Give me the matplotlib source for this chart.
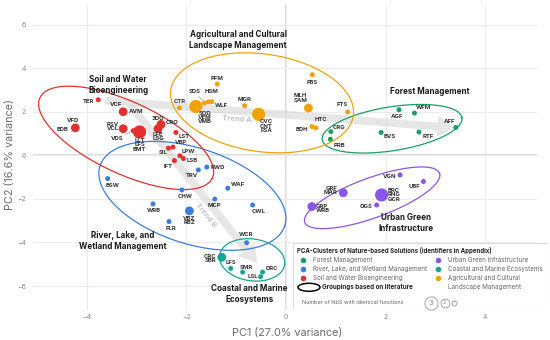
import numpy as np
import matplotlib.pyplot as plt
from matplotlib.patches import Ellipse, Rectangle

plt.rcParams['font.family'] = ['Inter', 'DejaVu Sans']

# ---- PCA scores ---------------------------------------------------------
forest_codes = ['CRG', 'PRB', 'BVS', 'AGF', 'WFM', 'RTF', 'AFF']
forest_pc1 = [0.90, 0.89, 1.91, 2.27, 2.58, 2.67, 3.41]
forest_pc2 = [1.09, 0.74, 1.05, 2.09, 1.94, 1.07, 1.28]
forest_n = [1, 1, 1, 1, 1, 1, 1]

river_codes = ['BSW', 'TRV', 'RWD', 'WAF', 'CHW', 'WRB', 'VBZ/RBZ', 'MCP', 'CWL', 'FLR', 'WCR']
river_pc1 = [-3.58, -1.76, -1.59, -1.17, -2.09, -2.67, -1.94, -1.43, -0.67, -2.35, -0.79]
river_pc2 = [-1.07, -0.67, -0.54, -1.51, -1.59, -2.23, -2.55, -2.01, -2.28, -3.04, -4.01]
river_n = [1, 1, 1, 1, 1, 1, 2, 1, 1, 1, 1]

soil_codes = ['TER', 'VCF/AVM', 'VFD/EDB', 'RSV/VCL', 'VDS', 'LLT/LFS/BMT', '3DO/CRO',
              'LFE/LSG', 'LST', 'VBP', 'SIL', 'LPW', 'LSB', 'IFT']
soil_pc1 = [-3.77, -3.27, -4.23, -3.27, -3.07, -2.94, -2.51, -2.57, -2.21, -2.27, -2.36,
            -2.13, -2.06, -2.24]
soil_pc2 = [2.55, 2.00, 1.26, 1.22, 1.13, 1.07, 1.42, 1.22, 1.05, 0.38, 0.33, -0.02, -0.15, -0.24]
soil_n = [1, 2, 2, 2, 1, 3, 2, 2, 1, 1, 1, 1, 1, 1]

urban_codes = ['VGN', 'UBF', 'BRC/RNG/GCR', 'OGS', 'GRF/MAR', 'GRP/WRB']
urban_pc1 = [2.29, 2.76, 1.92, 1.82, 1.15, 0.52]
urban_pc2 = [-0.90, -1.20, -1.82, -2.28, -1.72, -2.35]
urban_n = [1, 1, 3, 1, 2, 2]

coast_codes = ['CRC/SBR', 'LFS', 'SMR', 'DRC', 'LSL']
coast_pc1 = [-1.29, -1.11, -0.87, -0.47, -0.51]
coast_pc2 = [-4.68, -5.19, -5.36, -5.36, -5.57]
coast_n = [2, 1, 1, 1, 1]

agri_codes = ['CTR', 'SOD/VEM/VMB', 'SDS', 'HSM', 'WLF', 'PFM', 'MGR', 'CVC/CNT/FSA',
              'FBS', 'MLH/SAM', 'BDH', 'HTC', 'FTS']
agri_pc1 = [-2.14, -1.81, -1.64, -1.56, -1.49, -1.38, -0.83, -0.55, 0.53, 0.45, 0.52, 0.60, 1.24]
agri_pc2 = [2.17, 2.24, 2.40, 2.45, 2.46, 3.27, 2.28, 1.88, 3.70, 2.17, 1.32, 1.26, 1.99]
agri_n = [1, 3, 1, 1, 1, 1, 1, 3, 1, 2, 1, 1, 1]

# literature groupings (ellipses): centre, semi-axes in PC1 units, screen angle
ell_cx = [2.13, -1.88, -3.21, 1.73, -0.68, -0.48]
ell_cy = [1.22, -1.86, 0.80, -1.95, -4.80, 2.41]
ell_a = [1.42, 1.95, 1.91, 1.44, 0.66, 1.85]
ell_b = [0.44, 0.96, 0.72, 0.40, 0.42, 0.98]
ell_ang = [9, -18, -25, 20, -8, -8]

cluster_names = ['Forest Management', 'River, Lake, and Wetland Management',
                 'Soil and Water Bioengineering', 'Urban Green Infrastructure',
                 'Coastal and Marine Ecosystems', 'Agricultural and Cultural\nLandscape Management']
cluster_titles = ['Forest Management', 'River, Lake, and\nWetland Management',
                  'Soil and Water\nBioengineering', 'Urban Green\nInfrastructure',
                  'Coastal and Marine\nEcosystems', 'Agricultural and Cultural\nLandscape Management']
title_x = [2.89, -3.27, -3.37, 2.41, -0.74, -0.96]
title_y = [2.92, -3.93, 3.24, -3.10, -6.37, 5.31]
colors = ['#1c9e62', '#3b7ddd', '#e3302f', '#8b55e8', '#17a593', '#f0a20c']

trend_names = ['Trend A', 'Trend B']
trend_start = [(-3.63, 2.51), (-3.13, 2.32)]
trend_end = [(3.39, 1.26), (-0.58, -4.94)]

groups = [
    (forest_codes, forest_pc1, forest_pc2, forest_n),
    (river_codes, river_pc1, river_pc2, river_n),
    (soil_codes, soil_pc1, soil_pc2, soil_n),
    (urban_codes, urban_pc1, urban_pc2, urban_n),
    (coast_codes, coast_pc1, coast_pc2, coast_n),
    (agri_codes, agri_pc1, agri_pc2, agri_n),
]

# label placement: text, dx, dy (pixels), ha, va
label_pos = {
    'TER': [('TER', -4, -2, 'right', 'center')],
    'VCF/AVM': [('VCF', -1, 7, 'right', 'center'), ('AVM', 6, 0, 'left', 'center')],
    'VFD/EDB': [('VFD', -2, 7, 'center', 'center'), ('EDB', -7, -2, 'right', 'center')],
    'RSV/VCL': [('RSV\nVCL', -4, 2, 'right', 'center')],
    'VDS': [('VDS', -10, -8, 'right', 'center')],
    'LLT/LFS/BMT': [('LLT\nLFS\nBMT', 0, -6, 'center', 'top')],
    '3DO/CRO': [('3DO', -3, 6, 'center', 'center'), ('CRO', 5, 2, 'left', 'center')],
    'LFE/LSG': [('LFE\nLSG', 0, -3, 'center', 'top')],
    'LST': [('LST', 3, -4, 'left', 'center')],
    'VBP': [('VBP', 2, 5, 'left', 'center')],
    'SIL': [('SIL', -1, -4, 'right', 'center')],
    'LPW': [('LPW', 2, 4, 'left', 'center')],
    'LSB': [('LSB', 3, -2, 'left', 'center')],
    'IFT': [('IFT', -6, -6, 'center', 'center')],
    'BSW': [('BSW', 5, -7, 'center', 'center')],
    'TRV': [('TRV', -6, -6, 'center', 'center')],
    'RWD': [('RWD', 4, 0, 'left', 'center')],
    'WAF': [('WAF', 3, 4, 'left', 'center')],
    'CHW': [('CHW', 3, -7, 'center', 'center')],
    'WRB': [('WRB', 1, -7, 'center', 'center')],
    'VBZ/RBZ': [('VBZ\nRBZ', 0, -5, 'center', 'top')],
    'MCP': [('MCP', 0, -6, 'center', 'center')],
    'CWL': [('CWL', 6, -7, 'center', 'center')],
    'FLR': [('FLR', 2, -7, 'center', 'center')],
    'WCR': [('WCR', -1, 8, 'center', 'center')],
    'CRC/SBR': [('CRC\nSBR', -5, -1, 'right', 'center')],
    'LFS': [('LFS', 0, 6, 'center', 'center')],
    'SMR': [('SMR', 4, 5, 'center', 'center')],
    'DRC': [('DRC', 3, 4, 'left', 'center')],
    'LSL': [('LSL', -2, 0, 'right', 'center')],
    'CRG': [('CRG', 2, 4, 'left', 'center')],
    'PRB': [('PRB', 3, -6, 'left', 'center')],
    'BVS': [('BVS', 3, -4, 'left', 'center')],
    'AGF': [('AGF', -2, -7, 'center', 'center')],
    'WFM': [('WFM', 1, 6, 'left', 'center')],
    'RTF': [('RTF', 4, -4, 'left', 'center')],
    'AFF': [('AFF', -6, 6, 'center', 'center')],
    'CTR': [('CTR', 0, 7, 'center', 'center')],
    'SOD/VEM/VMB': [('SOD\nVEM\nVMB', 9, -4, 'center', 'top')],
    'SDS': [('SDS', -10, 12, 'center', 'center')],
    'HSM': [('HSM', 3, 10, 'center', 'center')],
    'WLF': [('WLF', 3, -4, 'left', 'center')],
    'PFM': [('PFM', 0, 6, 'center', 'center')],
    'MGR': [('MGR', 0, 6, 'center', 'center')],
    'CVC/CNT/FSA': [('CVC\nCNT\nFSA', 8, -5, 'center', 'top')],
    'FBS': [('FBS', 0, -8, 'center', 'center')],
    'MLH/SAM': [('MLH\nSAM', -8, 10, 'center', 'center')],
    'BDH': [('BDH', -4, -3, 'right', 'center')],
    'HTC': [('HTC', 5, 8, 'center', 'center')],
    'FTS': [('FTS', -6, 7, 'center', 'center')],
    'VGN': [('VGN', -4, -2, 'right', 'center')],
    'UBF': [('UBF', -3, -5, 'right', 'center')],
    'BRC/RNG/GCR': [('BRC\nRNG\nGCR', 6, 0, 'left', 'center')],
    'OGS': [('OGS', -4, -2, 'right', 'center')],
    'GRF/MAR': [('GRF\nMAR', -6, 2, 'right', 'center')],
    'GRP/WRB': [('GRP\nWRB', 4, -2, 'left', 'center')],
}
leader = ['VDS', 'SDS']
size_of = {1: 13, 2: 40, 3: 90}

fig = plt.figure(figsize=(5.5, 3.4), dpi=100)
ax = fig.add_axes([33 / 550, 30 / 340, 504 / 550, 305 / 340])
xlim = (-5.08, 5.04)
ylim = (-7.1, 6.9)
ax.set_xlim(*xlim)
ax.set_ylim(*ylim)
ax.set_xticks([-4, -2, 0, 2, 4])
ax.set_yticks([-6, -4, -2, 0, 2, 4, 6])
ax.grid(color='#ececec', lw=0.8)
ax.axhline(0, color='#d2d2d2', lw=1.1, zorder=0.5)
ax.axvline(0, color='#d2d2d2', lw=1.1, zorder=0.5)
ax.set_axisbelow(True)
for s in ax.spines.values():
    s.set_visible(False)
ax.tick_params(length=0, labelsize=5, labelcolor='#8a8a8a', pad=3)
ax.tick_params(axis='y', pad=5)

fig.text(287 / 550, 1 - 333 / 340, 'PC1 (27.0% variance)', ha='center', va='center',
         fontsize=7.8, color='#6a6a6a')
fig.text(10 / 550, 1 - 155 / 340, 'PC2 (16.6% variance)', ha='center', va='center',
         fontsize=7.8, color='#6a6a6a', rotation=90)

# pixel scale of the axes, used to draw ellipses in screen proportions
bb = ax.get_window_extent()
px_x = bb.width / (xlim[1] - xlim[0])
px_y = bb.height / (ylim[1] - ylim[0])

t = np.linspace(0, 2 * np.pi, 200)
for i in range(len(ell_cx)):
    th = np.radians(ell_ang[i])
    a = ell_a[i] * px_x
    b = ell_b[i] * px_x
    sx = a * np.cos(t) * np.cos(th) - b * np.sin(t) * np.sin(th)
    sy = a * np.cos(t) * np.sin(th) + b * np.sin(t) * np.cos(th)
    ax.plot(ell_cx[i] + sx / px_x, ell_cy[i] + sy / px_y, color=colors[i], lw=0.9, zorder=2)

# trend arrows
trend_lbl = [(-0.99, 1.66, -4), (-1.62, -2.74, -51)]
for i in range(len(trend_names)):
    ax.annotate('', xy=trend_end[i], xytext=trend_start[i],
                arrowprops=dict(arrowstyle='simple,head_length=0.9,head_width=1.1,tail_width=0.4',
                                mutation_scale=14, color='#d6d6d6', alpha=0.6, lw=0,
                                shrinkA=0, shrinkB=0), zorder=1.5)
    lx, ly, rot = trend_lbl[i]
    ax.text(lx, ly, trend_names[i], fontsize=5.5, color='#c4c4c4', fontweight='bold',
            rotation=rot, ha='center', va='center', zorder=1.6)

# points and labels
for gi, (codes, pc1, pc2, n) in enumerate(groups):
    ax.scatter(pc1, pc2, s=[size_of[k] for k in n], color=colors[gi], lw=0, zorder=3)
    for code, x, y in zip(codes, pc1, pc2):
        for txt, dx, dy, ha, va in label_pos[code]:
            props = None
            if code in leader:
                props = dict(arrowstyle='-', color='#888888', lw=0.4, shrinkA=0, shrinkB=2)
            ax.annotate(txt, (x, y), xytext=(dx, dy), textcoords='offset pixels',
                        ha=ha, va=va, fontsize=4.3, color='#333333', fontweight='bold',
                        linespacing=0.85, arrowprops=props, zorder=4)

for i in range(len(cluster_titles)):
    ax.text(title_x[i], title_y[i], cluster_titles[i], ha='center', va='center',
            fontsize=5.8, fontweight='bold', color='#1a1a1a', linespacing=1.3, zorder=4)

# legend box
lg = fig.add_axes([292 / 550, 30 / 340, 256 / 550, 68 / 340])
lg.set_xlim(0, 256)
lg.set_ylim(68, 0)
lg.axis('off')
lg.add_patch(Rectangle((0.5, 0.5), 255, 67, facecolor='white', edgecolor='#dcdcdc', lw=0.8))
lg.text(5, 8, 'PCA-Clusters of Nature-based Solutions (identifiers in Appendix)',
        fontsize=4.4, fontweight='bold', color='#222222', va='center')
col_x = [11.3, 11.3, 11.3, 146.3, 146.3, 146.3]
row_y = [18.3, 27.3, 36.3, 18.3, 27.3, 36.3]
order = [0, 1, 2, 3, 4, 5]
for k in order:
    lg.scatter(col_x[k], row_y[k], s=16, color=colors[k], lw=0)
    lg.text(col_x[k] + 10, row_y[k], cluster_names[k], fontsize=4.5, color='#666666',
            va='top' if '\n' in cluster_names[k] else 'center', linespacing=1.5)
lg.texts[-1].set_y(row_y[5] - 3)
lg.add_patch(Ellipse((17, 45.3), 22, 8, fill=False, edgecolor='black', lw=1.1))
lg.text(29.7, 45.3, 'Groupings based on literature', fontsize=4.5, fontweight='bold',
        color='#222222', va='center')
lg.text(9.7, 60.7, 'Number of NbS with identical functions', fontsize=4.0, color='#666666',
        va='center')
size_x = [139, 152.7, 162.3]
for sx, k in zip(size_x, [3, 2, 1]):
    lg.scatter(sx, 60.7, s=size_of[k], facecolor='white', edgecolor='#999999', lw=0.6)
    lg.text(sx, 60.9, str(k), fontsize=[2.5, 4.0, 5.5][k - 1] if k > 1 else 2.5,
            color='#888888', ha='center', va='center')

fig.savefig('out.png', dpi=100)
